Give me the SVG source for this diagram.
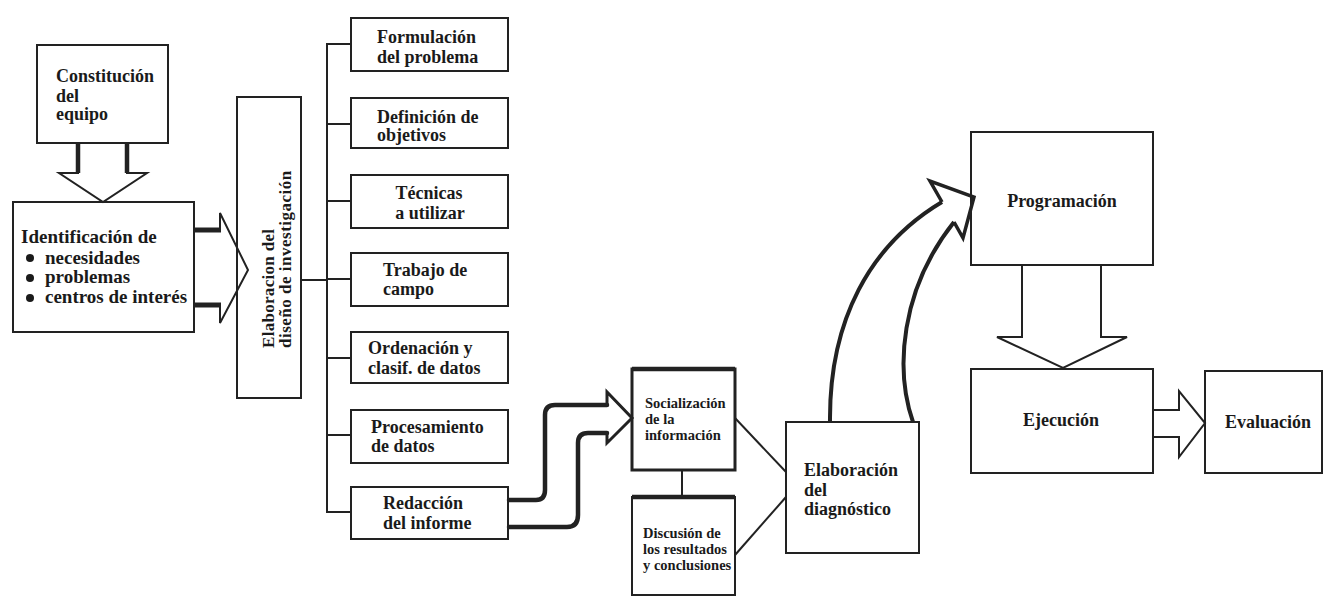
<svg xmlns="http://www.w3.org/2000/svg" width="1326" height="597" viewBox="0 0 1326 597">
<style>
.bx{fill:#fff;stroke:#222;stroke-width:2}
.bxt{fill:#fff;stroke:#222;stroke-width:3}
.t{font-family:"Liberation Serif","Times New Roman",serif;font-weight:bold;fill:#1a1a1a}
.t18{font-size:18px}
.t19{font-size:19px}
.t17{font-size:17px}
.t14{font-size:14.5px}
.ln{fill:none;stroke:#222;stroke-width:2}
.thick{fill:none;stroke:#222;stroke-width:4.5;stroke-linecap:round;stroke-linejoin:round}
.ar{fill:#fff;stroke:#222;stroke-width:2;stroke-linejoin:miter}
.arn{fill:none;stroke:#222;stroke-width:2;stroke-linejoin:miter}
</style>
<rect width="1326" height="597" fill="#fff"/>

<g id="constitucion">
<rect class="bx" x="37" y="45" width="131" height="98"/>
<text class="t t18" x="56" y="82">Constitución</text>
<text class="t t18" x="56" y="102">del</text>
<text class="t t18" x="56" y="120">equipo</text>
</g>

<g id="identificacion">
<rect class="bx" x="13" y="202" width="181" height="130"/>
<text class="t t19" x="21" y="243">Identificación de</text>
<circle cx="30" cy="258" r="4" fill="#1a1a1a"/>
<circle cx="30" cy="278" r="4" fill="#1a1a1a"/>
<circle cx="30" cy="298" r="4" fill="#1a1a1a"/>
<text class="t t19" x="45" y="264">necesidades</text>
<text class="t t19" x="45" y="283">problemas</text>
<text class="t t19" x="45" y="303">centros de interés</text>
</g>

<g id="elaboracion-diseno">
<rect class="bx" x="237" y="97" width="64" height="301"/>
<text class="t t17" transform="translate(274,348) rotate(-90)" letter-spacing="0.3">Elaboracion del</text>
<text class="t t17" transform="translate(291,348) rotate(-90)" letter-spacing="0.5">diseño de investigación</text>
</g>

<g id="formulacion">
<rect class="bx" x="351" y="18" width="157" height="53"/>
<text class="t t18" x="377" y="43">Formulación</text>
<text class="t t18" x="377" y="63">del problema</text>
</g>
<g id="definicion">
<rect class="bx" x="351" y="98" width="157" height="50"/>
<text class="t t18" x="377" y="123">Definición de</text>
<text class="t t18" x="377" y="141">objetivos</text>
</g>
<g id="tecnicas">
<rect class="bx" x="351" y="175" width="157" height="53"/>
<text class="t t18" x="429" y="199" text-anchor="middle">Técnicas</text>
<text class="t t18" x="430" y="219" text-anchor="middle">a utilizar</text>
</g>
<g id="trabajo">
<rect class="bx" x="351" y="253" width="157" height="53"/>
<text class="t t18" x="383" y="276">Trabajo de</text>
<text class="t t18" x="383" y="295">campo</text>
</g>
<g id="ordenacion">
<rect class="bx" x="351" y="332" width="157" height="51"/>
<text class="t t18" x="368" y="354">Ordenación y</text>
<text class="t t18" x="368" y="374">clasif. de datos</text>
</g>
<g id="procesamiento">
<rect class="bx" x="351" y="410" width="157" height="53"/>
<text class="t t18" x="371" y="433">Procesamiento</text>
<text class="t t18" x="371" y="452">de datos</text>
</g>
<g id="redaccion">
<rect class="bx" x="351" y="487" width="157" height="52"/>
<text class="t t18" x="383" y="509">Redacción</text>
<text class="t t18" x="383" y="529">del informe</text>
</g>

<g id="socializacion">
<rect class="bxt" x="632" y="369" width="103" height="101"/>
<line x1="632" y1="369" x2="735" y2="369" stroke="#222" stroke-width="4.5"/>
<text class="t t14" x="645" y="408">Socialización</text>
<text class="t t14" x="645" y="424">de la</text>
<text class="t t14" x="645" y="440">información</text>
</g>

<g id="discusion">
<rect class="bx" x="632" y="497" width="103" height="98" stroke-width="2.5"/>
<line x1="632" y1="497" x2="735" y2="497" stroke="#222" stroke-width="4.5"/>
<text class="t t14" x="643" y="538">Discusión de</text>
<text class="t t14" x="643" y="554">los resultados</text>
<text class="t t14" x="643" y="570">y conclusiones</text>
</g>

<g id="diagnostico">
<rect class="bx" x="786" y="422" width="133" height="131"/>
<text class="t t18" x="804" y="476">Elaboración</text>
<text class="t t18" x="804" y="496">del</text>
<text class="t t18" x="804" y="515">diagnóstico</text>
</g>

<g id="programacion">
<rect class="bx" x="971" y="132" width="182" height="133"/>
<text class="t t18" x="1062" y="207" text-anchor="middle">Programación</text>
</g>

<g id="ejecucion">
<rect class="bx" x="971" y="369" width="182" height="104"/>
<text class="t t18" x="1061" y="426" text-anchor="middle">Ejecución</text>
</g>

<g id="evaluacion">
<rect class="bx" x="1205" y="371" width="117" height="102"/>
<text class="t t18" x="1225" y="428">Evaluación</text>
</g>

<g id="connectors">
<!-- Constitucion -> Identificacion -->
<polygon class="ar" points="78,143 78,173 59,173 103,202 147,173 127,173 127,143"/>
<line x1="78" y1="143" x2="78" y2="173" stroke="#222" stroke-width="4.5"/>
<line x1="127" y1="143" x2="127" y2="173" stroke="#222" stroke-width="4.5"/>

<!-- Identificacion -> Elaboracion diseno -->
<polyline class="arn" points="220,230 220,213 248,270 220,323 220,305"/>
<line x1="194" y1="230" x2="221" y2="230" stroke="#222" stroke-width="5"/>
<line x1="194" y1="305" x2="221" y2="305" stroke="#222" stroke-width="5"/>

<!-- tree -->
<line class="ln" x1="301" y1="280" x2="327" y2="280"/>
<line class="ln" x1="327" y1="44" x2="327" y2="513"/>
<line class="ln" x1="326" y1="44" x2="351" y2="44"/>
<line class="ln" x1="326" y1="124" x2="351" y2="124"/>
<line class="ln" x1="326" y1="201" x2="351" y2="201"/>
<line class="ln" x1="326" y1="279" x2="351" y2="279"/>
<line class="ln" x1="326" y1="358" x2="351" y2="358"/>
<line class="ln" x1="326" y1="435" x2="351" y2="435"/>
<line class="ln" x1="326" y1="512" x2="351" y2="512"/>

<!-- Redaccion -> Socializacion -->
<path class="thick" d="M509,500 L536,500 Q545,500 545,490 L545,415 Q545,405 555,405 L607,405"/>
<path class="thick" d="M509,527 L567,527 Q578,527 578,515 L578,443 Q578,433 588,433 L607,433"/>
<polyline fill="none" stroke="#222" stroke-width="3" stroke-linejoin="miter" points="607,405 607,392 632,418 607,443 607,433"/>

<!-- Socializacion - Discusion -->
<line class="ln" x1="682" y1="470" x2="682" y2="497"/>
<!-- to diagnostico -->
<line class="ln" x1="735" y1="418" x2="786" y2="472"/>
<line class="ln" x1="735" y1="555" x2="786" y2="497"/>

<!-- Diagnostico -> Programacion (curved fat arrow) -->
<path fill="none" stroke="#222" stroke-width="4" d="M830,422 C829,320 870,245 942,202"/>
<path fill="none" stroke="#222" stroke-width="4" d="M913,422 C895,370 900,290 954,222"/>
<polyline fill="none" stroke="#222" stroke-width="3.5" stroke-linejoin="miter" points="942,202 930,181 974,197 963,238 954,222"/>

<!-- Programacion -> Ejecucion -->
<polygon class="ar" points="1022,265 1022,337 997,337 1063,368 1127,337 1101,337 1101,265"/>

<!-- Ejecucion -> Evaluacion -->
<polygon class="ar" points="1153,410 1179,410 1179,391 1205,423 1179,457 1179,437 1153,437"/>
</g>
</svg>
